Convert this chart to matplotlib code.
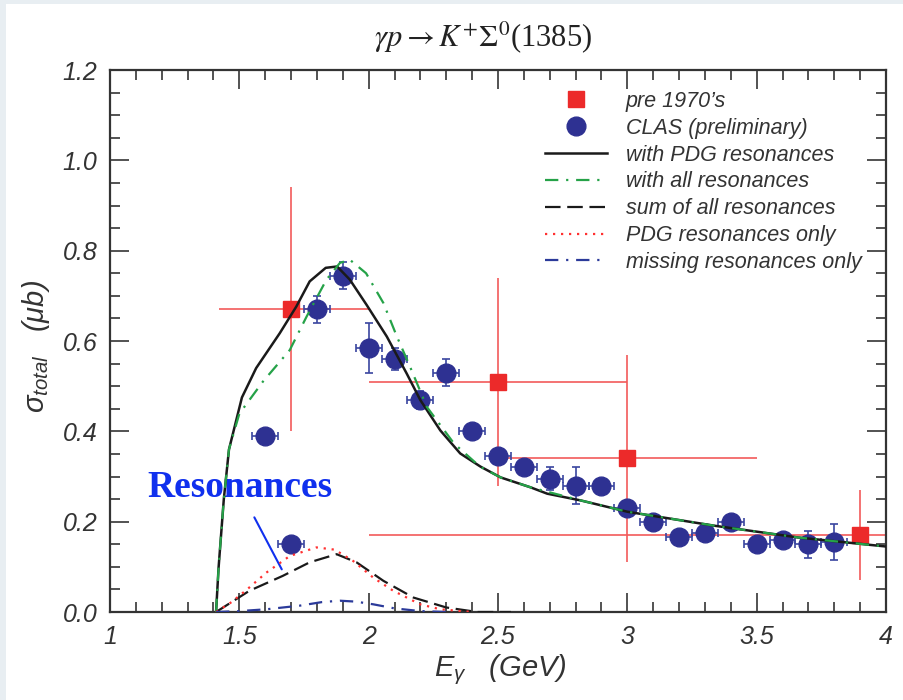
import matplotlib
matplotlib.use("Agg")
import matplotlib.pyplot as plt
from matplotlib.lines import Line2D
from matplotlib.patches import Rectangle
from matplotlib.ticker import MultipleLocator
from matplotlib.font_manager import FontProperties

plt.rcParams['font.family'] = ['Liberation Sans', 'DejaVu Sans']
plt.rcParams['mathtext.fontset'] = 'custom'
plt.rcParams['mathtext.it'] = 'Liberation Sans:italic'
plt.rcParams['mathtext.rm'] = 'Liberation Sans:italic'
plt.rcParams['mathtext.sf'] = 'Liberation Sans:italic'

# ---------------- data ----------------
# CLAS (preliminary)
clas_x = [1.6, 1.7, 1.8, 1.9, 2.0, 2.1, 2.2, 2.3, 2.4, 2.5, 2.6, 2.7, 2.8, 2.9,
          3.0, 3.1, 3.2, 3.3, 3.4, 3.5, 3.6, 3.7, 3.8]
clas_y = [0.39, 0.15, 0.67, 0.745, 0.585, 0.56, 0.47, 0.53, 0.40, 0.345, 0.32, 0.295,
          0.28, 0.28, 0.23, 0.20, 0.165, 0.175, 0.20, 0.15, 0.16, 0.15, 0.155]
clas_yerr = [0.008, 0.008, 0.03, 0.03, 0.055, 0.025, 0.02, 0.03, 0.008, 0.01, 0.01, 0.025,
             0.04, 0.008, 0.015, 0.01, 0.01, 0.01, 0.01, 0.01, 0.01, 0.03, 0.04]
clas_xerr = 0.05

# pre 1970's
pre_x = [1.7, 2.5, 3.0, 3.9]
pre_y = [0.67, 0.51, 0.34, 0.17]
pre_xerr_lo = [0.28, 0.5, 0.5, 1.9]
pre_xerr_hi = [0.30, 0.5, 0.5, 1.9]
pre_yerr = [0.27, 0.23, 0.23, 0.10]

# with PDG resonances (solid black)
pdg_x = [1.41, 1.42, 1.44, 1.46, 1.51, 1.565, 1.656, 1.72, 1.772, 1.834, 1.878, 1.927,
         1.992, 2.07, 2.147, 2.2, 2.277, 2.354, 2.432, 2.51, 2.626, 2.69, 2.82, 3.0,
         3.337, 3.66, 4.0]
pdg_y = [0.0, 0.10, 0.25, 0.36, 0.475, 0.54, 0.617, 0.676, 0.732, 0.762, 0.765, 0.736,
         0.68, 0.61, 0.528, 0.469, 0.402, 0.351, 0.322, 0.298, 0.276, 0.262, 0.247, 0.222,
         0.191, 0.165, 0.145]

# with all resonances (green dash-dot)
all_x = [1.41, 1.42, 1.44, 1.46, 1.5, 1.591, 1.695, 1.76, 1.837, 1.889, 1.927, 1.99,
         2.057, 2.109, 2.16, 2.225, 2.33, 2.43, 2.51, 2.626, 2.82, 3.0, 3.337, 3.66, 4.0]
all_y = [0.0, 0.10, 0.25, 0.36, 0.439, 0.51, 0.58, 0.654, 0.736, 0.773, 0.78, 0.75,
         0.684, 0.61, 0.543, 0.454, 0.373, 0.322, 0.298, 0.276, 0.247, 0.222, 0.191,
         0.165, 0.145]

# sum of all resonances (black dashed)
sum_x = [1.41, 1.539, 1.668, 1.772, 1.876, 1.953, 2.057, 2.173, 2.30, 2.42, 2.55]
sum_y = [0.0, 0.047, 0.08, 0.11, 0.128, 0.11, 0.069, 0.032, 0.01, 0.0, 0.0]

# PDG resonances only (red dotted)
pdgonly_x = [1.41, 1.47, 1.53, 1.604, 1.695, 1.798, 1.869, 1.94, 2.018, 2.095, 2.199,
             2.277, 2.4]
pdgonly_y = [0.0, 0.022, 0.05, 0.087, 0.124, 0.143, 0.138, 0.113, 0.076, 0.047, 0.017,
             0.006, 0.0]

# missing resonances only (blue dash-dot)
miss_x = [1.41, 1.5, 1.604, 1.733, 1.82, 1.889, 1.95, 2.018, 2.1, 2.2, 2.3]
miss_y = [0.0, 0.002, 0.006, 0.014, 0.022, 0.025, 0.023, 0.017, 0.008, 0.002, 0.0]

x_ticks = [1, 1.5, 2, 2.5, 3, 3.5, 4]
x_ticklabels = ['1', '1.5', '2', '2.5', '3', '3.5', '4']
y_ticks = [0.0, 0.2, 0.4, 0.6, 0.8, 1.0, 1.2]
y_ticklabels = ['0.0', '0.2', '0.4', '0.6', '0.8', '1.0', '1.2']

# ---------------- figure ----------------
fig = plt.figure(figsize=(9.04, 7.0), dpi=100)
fig.patch.set_facecolor('#e8eef2')
fig.patches.append(Rectangle((6 / 904, 0), 1, 1 - 4 / 700, transform=fig.transFigure,
                             facecolor='white', edgecolor='none', zorder=-10))

with plt.rc_context({'font.style': 'italic'}):
    ax = fig.add_axes([110 / 904, (700 - 612) / 700, (886 - 110) / 904, (612 - 70) / 700])
    ax.set_xlim(1, 4)
    ax.set_ylim(0, 1.2)
    ax.set_xticks(x_ticks)
    ax.set_xticklabels(x_ticklabels)
    ax.set_yticks(y_ticks)
    ax.set_yticklabels(y_ticklabels)
    ax.xaxis.set_minor_locator(MultipleLocator(0.1))
    ax.yaxis.set_minor_locator(MultipleLocator(0.05))
    ax.tick_params(which='both', direction='in', top=True, right=True, color='#444444',
                   width=1.3)
    ax.tick_params(which='major', length=14, labelsize=18, pad=9, labelcolor='#333333')
    ax.tick_params(which='minor', length=7)

red = '#ec2a2a'
red_err = '#f25a5a'
navy = '#2e3192'

ax.errorbar(pre_x, pre_y, xerr=[pre_xerr_lo, pre_xerr_hi], yerr=pre_yerr, fmt='s',
            color=red, ms=12, ecolor=red_err, elinewidth=1.2, capsize=0, zorder=2)
ax.errorbar(clas_x, clas_y, xerr=clas_xerr, yerr=clas_yerr, fmt='o', color=navy,
            ms=13.5, ecolor='#3a46a0', elinewidth=1.2, capsize=3, capthick=1.2, zorder=3)

l_pdg, = ax.plot(pdg_x, pdg_y, color='#1a1a1a', lw=1.8, zorder=4)
l_all, = ax.plot(all_x, all_y, color='#25a248', lw=1.6, linestyle=(0, (6, 3.5, 1, 3.5)),
                 zorder=5)
l_sum, = ax.plot(sum_x, sum_y, color='#1a1a1a', lw=1.6, linestyle=(0, (7, 3)), zorder=5)
l_po, = ax.plot(pdgonly_x, pdgonly_y, color='#ff3030', lw=1.6, linestyle=(0, (1, 2.6)),
                zorder=5)
l_miss, = ax.plot(miss_x, miss_y, color='#2b3a9a', lw=1.6, linestyle=(0, (6, 3.5, 1, 3.5)),
                  zorder=5)
ax.set_xlim(1, 4)
ax.set_ylim(0, 1.2)

for sp in ax.spines.values():
    sp.set_linewidth(1.6)
    sp.set_color('#333333')

ax.set_xlabel(r'$E_{\gamma}$   $(GeV)$', fontsize=21, color='#333333', va='top')
ax.xaxis.set_label_coords(0.503, -0.075)
ax.set_ylabel(r'$\sigma_{total}$   $(\mu b)$', fontsize=21, color='#333333')
ax.yaxis.set_label_coords(-0.075, 0.49)

fig.text(483 / 904, 1 - 37 / 700, r'$\gamma p \rightarrow K^{+}\Sigma^{0}$(1385)',
         ha='center', va='center', fontsize=22, family='Liberation Serif',
         math_fontfamily='stix', color='#222222')

# annotation
ax.text(1.145, 0.275, 'Resonances', color='#1030ee', fontsize=27, fontweight='bold',
        family='Liberation Serif', ha='left', va='center')
ax.annotate('', xy=(1.669, 0.089), xytext=(1.553, 0.215),
            arrowprops=dict(arrowstyle='-', color='#1030ee', lw=1.5))

# legend
h_pre = Line2D([], [], linestyle='none', marker='s', color=red, ms=12)
h_clas = Line2D([], [], linestyle='none', marker='o', color=navy, ms=13.5)
handles = [h_pre, h_clas, l_pdg, l_all, l_sum, l_po, l_miss]
labels = ['pre 1970\u2019s', 'CLAS (preliminary)', 'with PDG resonances',
          'with all resonances', 'sum of all resonances', 'PDG resonances only',
          'missing resonances only']
leg = ax.legend(handles, labels, loc='upper left', bbox_to_anchor=(545 / 904, 1 - 91 / 700),
                bbox_transform=fig.transFigure, frameon=False, fontsize=15.5,
                handlelength=2.9, handletextpad=0.84, labelspacing=0.27, borderpad=0,
                borderaxespad=0)
for t in leg.get_texts():
    t.set_fontstyle('italic')
    t.set_color('#333333')

fig.canvas.draw()
tick_fp = FontProperties(family=['Liberation Sans'], style='italic', size=18)
for lab in ax.get_xticklabels() + ax.get_yticklabels():
    lab.set_fontproperties(tick_fp)

fig.savefig('out.png', dpi=100, facecolor=fig.get_facecolor())
